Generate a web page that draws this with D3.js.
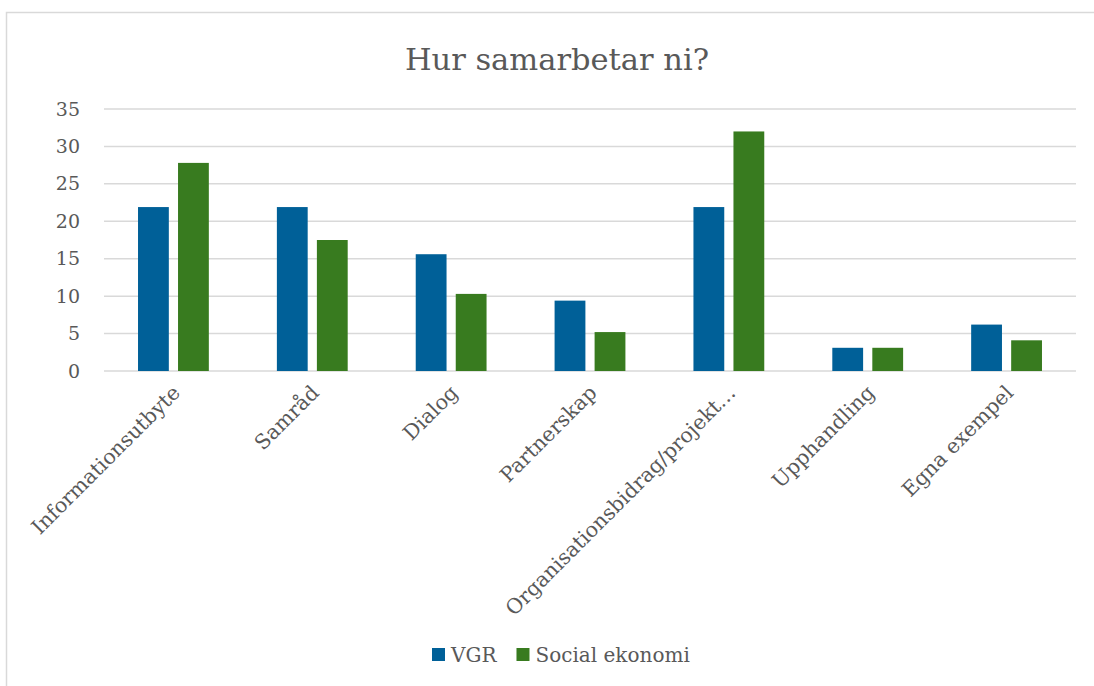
<!DOCTYPE html>
<html>
<head>
<meta charset="utf-8">
<script src="https://cdn.jsdelivr.net/npm/d3@7"></script>
<style>
  body { margin: 0; background: #fff; }
  text { font-family: "DejaVu Serif", serif; fill: #595959; }
</style>
</head>
<body>
<div id="chart"></div>
<script>
const categories = ["Informationsutbyte", "Samråd", "Dialog", "Partnerskap", "Organisationsbidrag/projekt…", "Upphandling", "Egna exempel"];
const seriesNames = ["VGR", "Social ekonomi"];
const vgrValues = [21.9, 21.9, 15.6, 9.4, 21.9, 3.1, 6.2];
const socialValues = [27.8, 17.5, 10.3, 5.2, 32.0, 3.1, 4.1];
const yTicks = [0, 5, 10, 15, 20, 25, 30, 35];

const fullwidth = 1094;
const fullheight = 686;
const colors = ["#006098", "#387b1f"];

const svg = d3.select("#chart")
  .append("svg")
  .attr("width", fullwidth)
  .attr("height", fullheight);

// chart frame
svg.append("rect")
  .attr("x", 6.5).attr("y", 12.5)
  .attr("width", 1100).attr("height", 700)
  .attr("fill", "none")
  .attr("stroke", "#d9d9d9")
  .attr("stroke-width", 1.5);

// title
svg.append("text")
  .attr("x", 557).attr("y", 70)
  .attr("text-anchor", "middle")
  .style("font-size", "30.5px")
  .text("Hur samarbetar ni?");

const x = d3.scaleBand().domain(categories).range([104, 1076]);
const xSub = d3.scaleBand().domain(seriesNames).range([x.bandwidth() * 0.245, x.bandwidth() * 0.755]).paddingInner(0.23);
const y = d3.scaleLinear().domain([0, 35]).range([371, 109]);

// gridlines
svg.append("g")
  .selectAll("line")
  .data(yTicks)
  .enter().append("line")
  .attr("x1", 104).attr("x2", 1076)
  .attr("y1", d => y(d)).attr("y2", d => y(d))
  .attr("stroke", "#d9d9d9")
  .attr("stroke-width", 1.5);

// y labels
const yAxis = svg.append("g")
  .attr("transform", "translate(80,0)")
  .call(d3.axisLeft(y).tickValues(yTicks).tickSize(0).tickPadding(0));
yAxis.select(".domain").remove();
yAxis.selectAll("text")
  .attr("fill", "#595959")
  .style("font-size", "19px")
  .style("font-family", null);

// bars
const rows = categories.map((c, i) => ({ category: c, values: [vgrValues[i], socialValues[i]] }));
const groups = svg.append("g")
  .selectAll("g")
  .data(rows)
  .enter().append("g")
  .attr("transform", d => `translate(${x(d.category)},0)`);

groups.selectAll("rect")
  .data(d => d.values.map((v, k) => ({ name: seriesNames[k], value: v, k })))
  .enter().append("rect")
  .attr("x", d => xSub(d.name))
  .attr("width", xSub.bandwidth())
  .attr("y", d => y(d.value))
  .attr("height", d => y(0) - y(d.value))
  .attr("fill", d => colors[d.k]);

// x labels
svg.append("g")
  .selectAll("text")
  .data(categories)
  .enter().append("text")
  .attr("text-anchor", "end")
  .attr("transform", d => `translate(${x(d) + x.bandwidth() / 2 + 8},394) rotate(-45)`)
  .style("font-size", "20.5px")
  .text(d => d);

// legend
const legend = svg.append("g");
let lx = 432;
seriesNames.forEach((name, k) => {
  legend.append("rect")
    .attr("x", lx).attr("y", 648)
    .attr("width", 13).attr("height", 13)
    .attr("fill", colors[k]);
  const t = legend.append("text")
    .attr("x", lx + 19).attr("y", 662)
    .style("font-size", "20px")
    .text(name);
  lx += 19 + t.node().getComputedTextLength() + 20;
});
</script>
</body>
</html>
